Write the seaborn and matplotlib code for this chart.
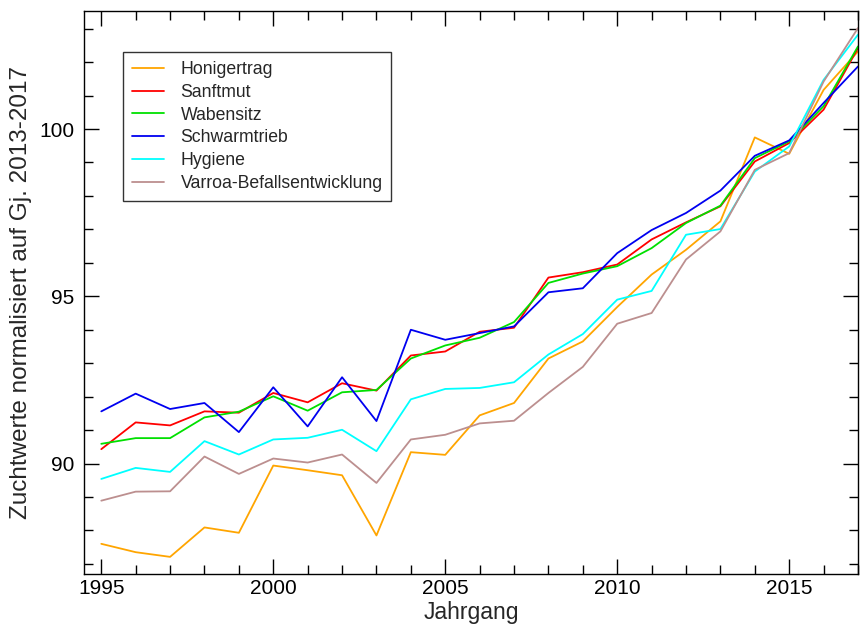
import numpy as np
import pandas as pd
import seaborn as sns
import matplotlib
matplotlib.use("Agg")
import matplotlib.pyplot as plt
from matplotlib.ticker import MultipleLocator

# Data
years = list(range(1995, 2018))
honigertrag = [87.60, 87.35, 87.21, 88.09, 87.93, 89.94, 89.80, 89.65, 87.85, 90.34, 90.26, 91.44,
               91.81, 93.14, 93.65, 94.68, 95.65, 96.39, 97.24, 99.75, 99.26, 101.17, 102.32]
sanftmut = [90.43, 91.23, 91.14, 91.56, 91.52, 92.11, 91.83, 92.40, 92.18, 93.23, 93.35, 93.94,
            94.06, 95.56, 95.72, 95.95, 96.70, 97.21, 97.69, 99.03, 99.58, 100.58, 102.42]
wabensitz = [90.59, 90.76, 90.76, 91.38, 91.55, 92.01, 91.58, 92.13, 92.20, 93.14, 93.53, 93.76,
             94.23, 95.40, 95.68, 95.90, 96.44, 97.19, 97.71, 99.13, 99.63, 100.68, 102.47]
schwarmtrieb = [91.56, 92.09, 91.63, 91.81, 90.94, 92.28, 91.11, 92.58, 91.27, 94.00, 93.70, 93.90,
                94.10, 95.12, 95.24, 96.29, 96.98, 97.49, 98.16, 99.20, 99.66, 100.78, 101.87]
hygiene = [89.54, 89.87, 89.75, 90.67, 90.27, 90.72, 90.77, 91.01, 90.37, 91.92, 92.23, 92.26,
           92.43, 93.26, 93.87, 94.90, 95.16, 96.84, 97.01, 98.73, 99.48, 101.47, 102.82]
varroa = [88.89, 89.16, 89.17, 90.21, 89.69, 90.15, 90.03, 90.27, 89.42, 90.72, 90.86, 91.20,
          91.28, 92.11, 92.89, 94.18, 94.50, 96.10, 96.94, 98.78, 99.28, 101.42, 103.02]

names = ["Honigertrag", "Sanftmut", "Wabensitz", "Schwarmtrieb", "Hygiene", "Varroa-Befallsentwicklung"]
series = [honigertrag, sanftmut, wabensitz, schwarmtrieb, hygiene, varroa]
colors = ["#FFA500", "#FF0000", "#00E000", "#0000F0", "#00FFFF", "#BC8F8F"]

df = pd.concat([pd.DataFrame({"Jahrgang": years, "wert": s, "merkmal": n})
                for n, s in zip(names, series)])

sns.set_style("ticks")
plt.rcParams['font.family'] = ['Liberation Sans', 'DejaVu Sans']

fig = plt.figure(figsize=(8.67, 6.3), dpi=100)
ax = fig.add_axes([0.097, 0.089, 0.8926, 0.8936])

sns.lineplot(data=df, x="Jahrgang", y="wert", hue="merkmal", palette=colors,
             hue_order=names, linewidth=1.3, ax=ax)

ax.set_xlim(1994.5, 2017)
ax.set_ylim(86.7, 103.53)
ax.xaxis.set_major_locator(MultipleLocator(5))
ax.xaxis.set_minor_locator(MultipleLocator(1))
ax.yaxis.set_major_locator(MultipleLocator(5))
ax.yaxis.set_minor_locator(MultipleLocator(1))
ax.tick_params(which="both", direction="in", top=True, right=True, colors="black",
               labelsize=15, width=1)
ax.tick_params(which="major", length=11)
ax.tick_params(which="minor", length=6.5)
ax.tick_params(axis="y", pad=7)
for sp in ax.spines.values():
    sp.set_color("black")
    sp.set_linewidth(1)

ax.set_xlabel("Jahrgang", fontsize=16.5, labelpad=2)
ax.set_ylabel("Zuchtwerte normalisiert auf Gj. 2013-2017", fontsize=17.5, labelpad=5)

leg = ax.legend(loc="upper left", bbox_to_anchor=(0.0504, 0.927), borderaxespad=0,
                fontsize=12.7, frameon=True, fancybox=False, handlelength=1.8,
                labelspacing=0.33, borderpad=0.5, handletextpad=0.95)
leg.get_frame().set_edgecolor("black")
leg.get_frame().set_linewidth(1)
leg.set_title(None)

fig.savefig("out.png", dpi=100)
